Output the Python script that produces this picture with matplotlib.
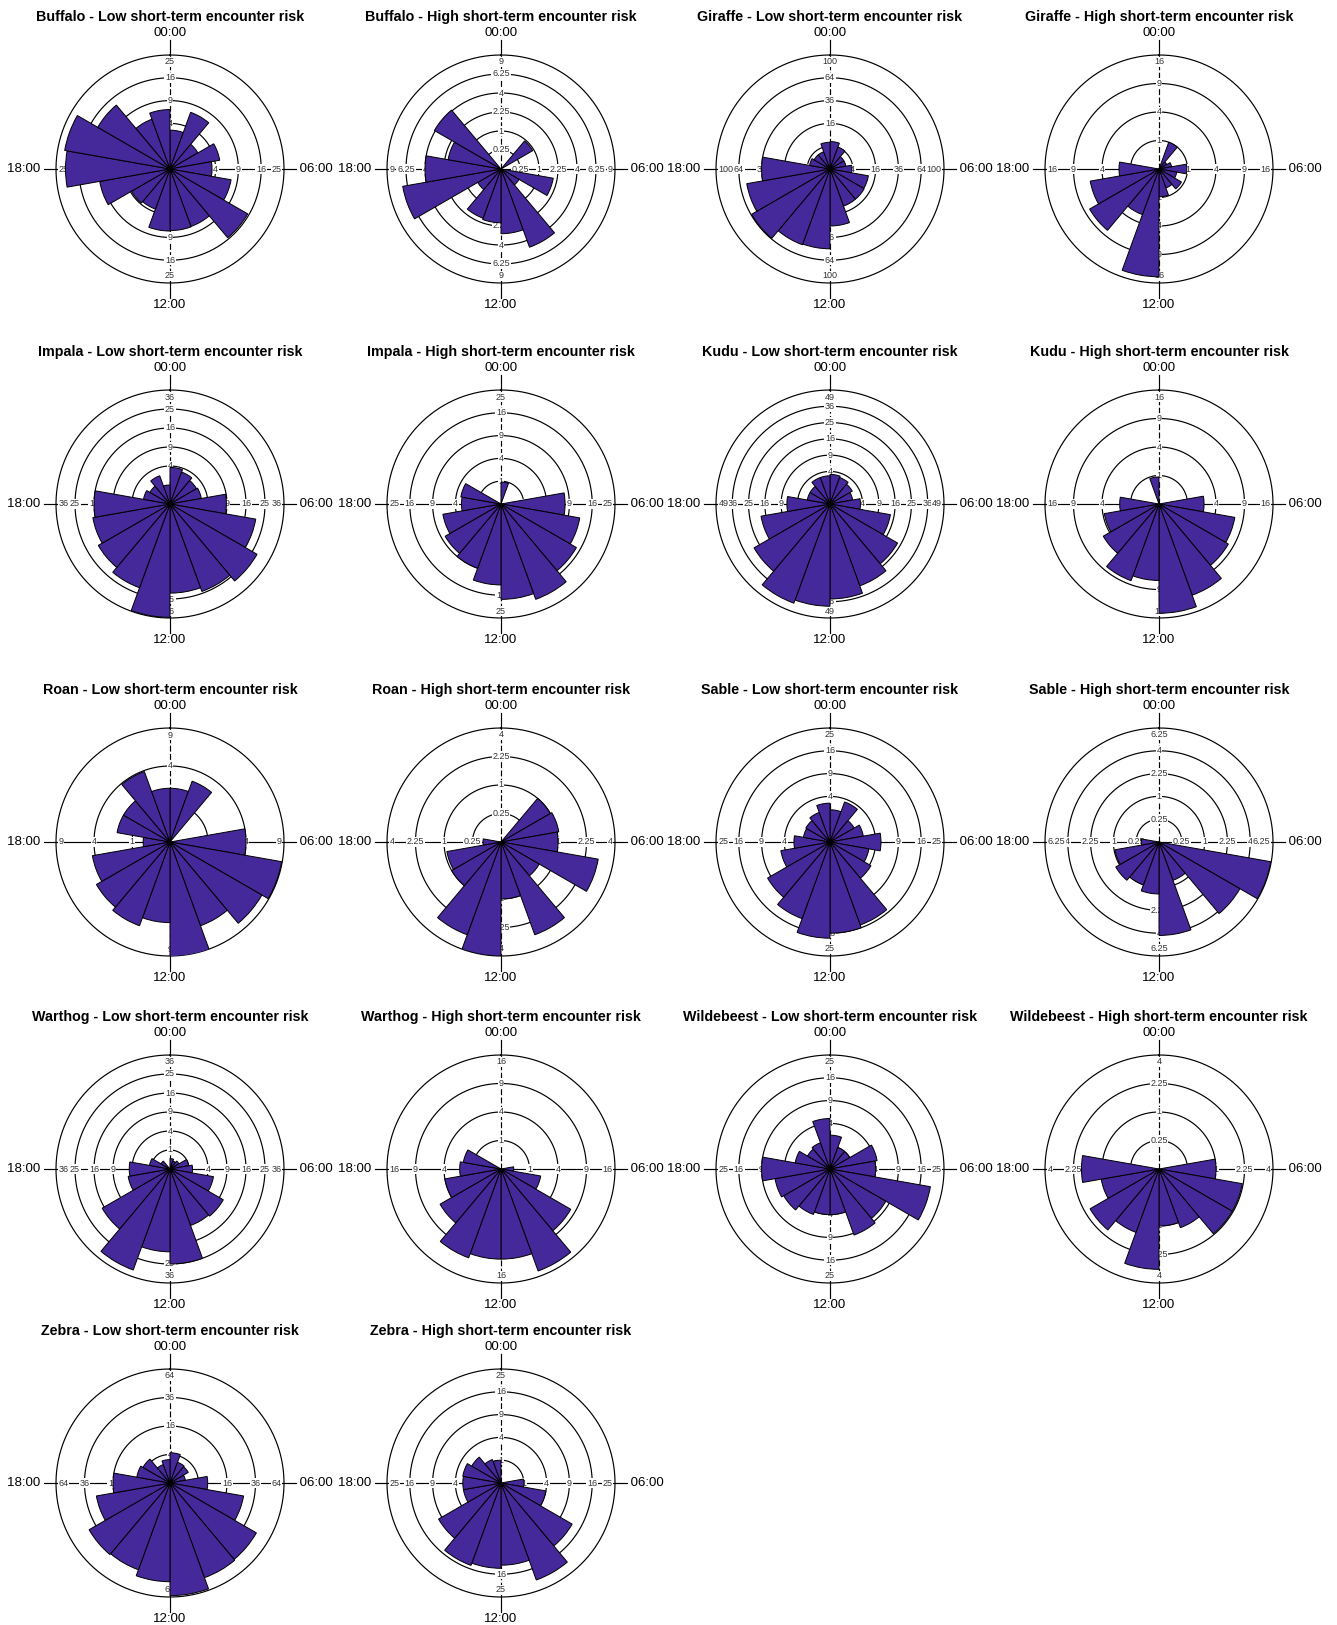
import numpy as np
import matplotlib.pyplot as plt

plt.rcParams['font.family'] = ['Liberation Sans', 'DejaVu Sans']

# 18 bins of 20 degrees (1h20) starting at 00:00, clockwise
bin_start_deg = np.arange(18) * 20

titles = [
    "Buffalo - Low short-term encounter risk", "Buffalo - High short-term encounter risk",
    "Giraffe - Low short-term encounter risk", "Giraffe - High short-term encounter risk",
    "Impala - Low short-term encounter risk", "Impala - High short-term encounter risk",
    "Kudu - Low short-term encounter risk", "Kudu - High short-term encounter risk",
    "Roan - Low short-term encounter risk", "Roan - High short-term encounter risk",
    "Sable - Low short-term encounter risk", "Sable - High short-term encounter risk",
    "Warthog - Low short-term encounter risk", "Warthog - High short-term encounter risk",
    "Wildebeest - Low short-term encounter risk", "Wildebeest - High short-term encounter risk",
    "Zebra - Low short-term encounter risk", "Zebra - High short-term encounter risk",
]

buffalo_low = [2.9, 7.0, 2.0, 4.9, 3.4, 7.4, 15.5, 7.2, 7.3, 7.4, 3.5, 3.8, 9.8, 21, 22, 13.4, 5.4, 6.8]
buffalo_high = [0, 0, 0.93, 0, 0, 1.95, 0.3, 4.8, 2.9, 2.0, 1.9, 0.5, 6.9, 4.0, 2.0, 4.1, 0, 0]
giraffe_low = [5.8, 4.2, 2.0, 2.0, 3.7, 11.7, 12, 12, 25, 49, 50, 63, 55, 36, 3.3, 2.6, 2.6, 5.5]
giraffe_high = [0, 1.0, 0.1, 0.2, 0.95, 0.4, 0.83, 0.5, 0.95, 14.3, 2.9, 7.9, 6.0, 1.97, 0, 0, 0, 0]
impala_low = [3.7, 3.2, 2.6, 2.8, 8.8, 21, 28, 24, 22, 35.6, 22, 19, 17, 16, 2, 1.5, 2.5, 1.0]
impala_high = [0.93, 0, 0, 0, 7.9, 12.3, 14.6, 19.8, 17.5, 12.6, 9, 8, 6.7, 3.0, 3.2, 0, 0, 0]
kudu_low = [3.3, 3, 2.5, 2, 3.5, 14.2, 23, 28.6, 34, 39.4, 42, 29, 18.5, 7, 2, 2, 3, 3]
kudu_high = [0, 0, 0, 0, 2.5, 7.3, 7.9, 11.6, 14.7, 7.2, 8.2, 5.1, 3.8, 1.9, 0, 0, 0, 0.9]
roan_low = [2.0, 2.9, 0, 0, 4.0, 8.9, 7.8, 5.5, 9.2, 4.5, 5.5, 5.0, 4.3, 0.5, 2.0, 2.0, 3.9, 2.0]
roan_high = [0, 0, 1.0, 1.06, 1.0, 3.0, 0.6, 3.0, 1.0, 4.0, 3.0, 1.0, 0.93, 0.1, 0, 0, 0, 0]
sable_low = [2.0, 3.5, 1.5, 2.2, 5, 3, 4.3, 15, 16, 17.8, 12.8, 10, 4.8, 2.5, 1.4, 1.5, 1.9, 2.9]
sable_high = [0, 0, 0, 0, 0, 6.2, 4.2, 0.8, 4.2, 1.3, 1.0, 1.2, 0.96, 0.15, 0, 0, 0, 0]
warthog_low = [0.3, 0.2, 0.3, 1.0, 1.4, 5.4, 10.5, 10, 25, 19, 32, 17, 5, 4.6, 1.2, 0.3, 0, 0]
warthog_high = [0, 0, 0, 0, 0.2, 2.0, 8, 14.5, 10, 10, 11, 6.1, 4, 2.1, 1.8, 0, 0, 0]
wildebeest_low = [2.2, 1.0, 1.0, 4.4, 4, 20, 8, 9.5, 4, 4, 4.5, 5.5, 6, 9, 2.4, 1.3, 1.5, 4.9]
wildebeest_high = [0, 0, 0, 0, 1.0, 2.2, 2.2, 1.2, 1.0, 3.1, 1.4, 1.95, 1.06, 1.85, 0, 0, 0, 0]
zebra_low = [4.5, 2.4, 2.2, 1.2, 7, 27.5, 49, 50, 62.5, 48, 42, 43, 27.5, 16, 5.6, 4.8, 1.9, 2.7]
zebra_high = [0, 0, 0, 0, 1.0, 4.0, 13, 20.5, 13, 14, 14.8, 10, 2.8, 2.8, 2.9, 2.2, 1.2, 1.0]

counts = [buffalo_low, buffalo_high, giraffe_low, giraffe_high,
          impala_low, impala_high, kudu_low, kudu_high,
          roan_low, roan_high, sable_low, sable_high,
          warthog_low, warthog_high, wildebeest_low, wildebeest_high,
          zebra_low, zebra_high]

# radial ticks (sqrt scale)
ticks = [
    [1, 4, 9, 16, 25], [0.25, 1, 2.25, 4, 6.25, 9],
    [4, 16, 36, 64, 100], [1, 4, 9, 16],
    [1, 4, 9, 16, 25, 36], [1, 4, 9, 16, 25],
    [1, 4, 9, 16, 25, 36, 49], [1, 4, 9, 16],
    [1, 4, 9], [0.25, 1, 2.25, 4],
    [1, 4, 9, 16, 25], [0.25, 1, 2.25, 4, 6.25],
    [1, 4, 9, 16, 25, 36], [1, 4, 9, 16],
    [1, 4, 9, 16, 25], [0.25, 1, 2.25, 4],
    [4, 16, 36, 64], [1, 4, 9, 16, 25],
]

hour_labels = ["00:00", "06:00", "12:00", "18:00"]

W, H = 1337, 1625
col_x = [170, 501, 830, 1159]
row_y = [169, 504, 842, 1169, 1483]
R = 114  # circle radius in px

bar_color = "#45289a"

fig = plt.figure(figsize=(W / 100, H / 100), dpi=100)


def fmt(v):
    return f"{v:g}"


# direction, and text alignment used for the outermost label
directions = [(0, "center", "top"), (np.pi / 2, "right", "center"),
              (np.pi, "center", "bottom"), (1.5 * np.pi, "left", "center")]

for i, (title, vals, tks) in enumerate(zip(titles, counts, ticks)):
    cx, cy = col_x[i % 4], row_y[i // 4]
    ax = fig.add_axes([(cx - R) / W, (H - cy - R) / H, 2 * R / W, 2 * R / H], polar=True)
    ax.set_theta_zero_location("N")
    ax.set_theta_direction(-1)
    ax.set_rscale("function", functions=(lambda r: np.sqrt(np.clip(r, 0, None)), np.square))
    rmax = tks[-1]
    ax.set_ylim(0, rmax)
    ax.grid(False)
    ax.set_xticks([])
    ax.set_yticks([])
    ax.spines["polar"].set_visible(False)
    ax.patch.set_alpha(0)

    full = np.linspace(0, 2 * np.pi, 400)
    for t in tks:
        ax.plot(full, np.full_like(full, t), color="k", lw=0.85, zorder=1, clip_on=False)

    # axis cross: vertical dashed inside, horizontal solid
    ax.plot([0, 0], [0, rmax], color="k", lw=0.85, dashes=(5, 2), zorder=1)
    ax.plot([np.pi, np.pi], [0, rmax], color="k", lw=0.85, dashes=(5, 2), zorder=1)
    ax.plot([np.pi / 2, np.pi / 2], [0, rmax], color="k", lw=0.85, zorder=1)
    ax.plot([1.5 * np.pi, 1.5 * np.pi], [0, rmax], color="k", lw=0.85, zorder=1)
    sq = np.sqrt(rmax)
    out_v = (1.13 * sq) ** 2
    out_h = (1.105 * sq) ** 2
    for th, ro in [(0, out_v), (np.pi, out_v), (np.pi / 2, out_h), (1.5 * np.pi, out_h)]:
        ax.plot([th, th], [rmax, ro], color="k", lw=0.85, clip_on=False, zorder=1)

    # tick labels on the four axis directions
    lab_kw = dict(fontsize=6.5, color="#333333", zorder=2,
                  bbox=dict(boxstyle="square,pad=0.08", fc="white", ec="none"))
    for t in tks:
        for th, ha_out, va_out in directions:
            if t == rmax:
                r_in = (sq * (1 - 2.5 / R)) ** 2
                ax.text(th, r_in, fmt(t), ha=ha_out, va=va_out, **lab_kw)
            else:
                ax.text(th, t, fmt(t), ha="center", va="center", **lab_kw)

    ax.bar(np.deg2rad(bin_start_deg), vals, width=np.deg2rad(20), align="edge",
           color=bar_color, edgecolor="k", linewidth=0.7, zorder=3)

    ax.text(0, (1.19 * sq) ** 2, hour_labels[0], ha="center", va="center", fontsize=9.5)
    ax.text(np.pi, (1.19 * sq) ** 2, hour_labels[2], ha="center", va="center", fontsize=9.5)
    ax.text(np.pi / 2, out_h, " " + hour_labels[1], ha="left", va="center", fontsize=9.5)
    ax.text(1.5 * np.pi, out_h, hour_labels[3] + " ", ha="right", va="center", fontsize=9.5)
    ax.text(0.5, 0.5 + 152 / (2 * R), title, transform=ax.transAxes, ha="center", va="center",
            fontsize=10.3, fontweight="bold")

fig.savefig("out.png", dpi=100)
